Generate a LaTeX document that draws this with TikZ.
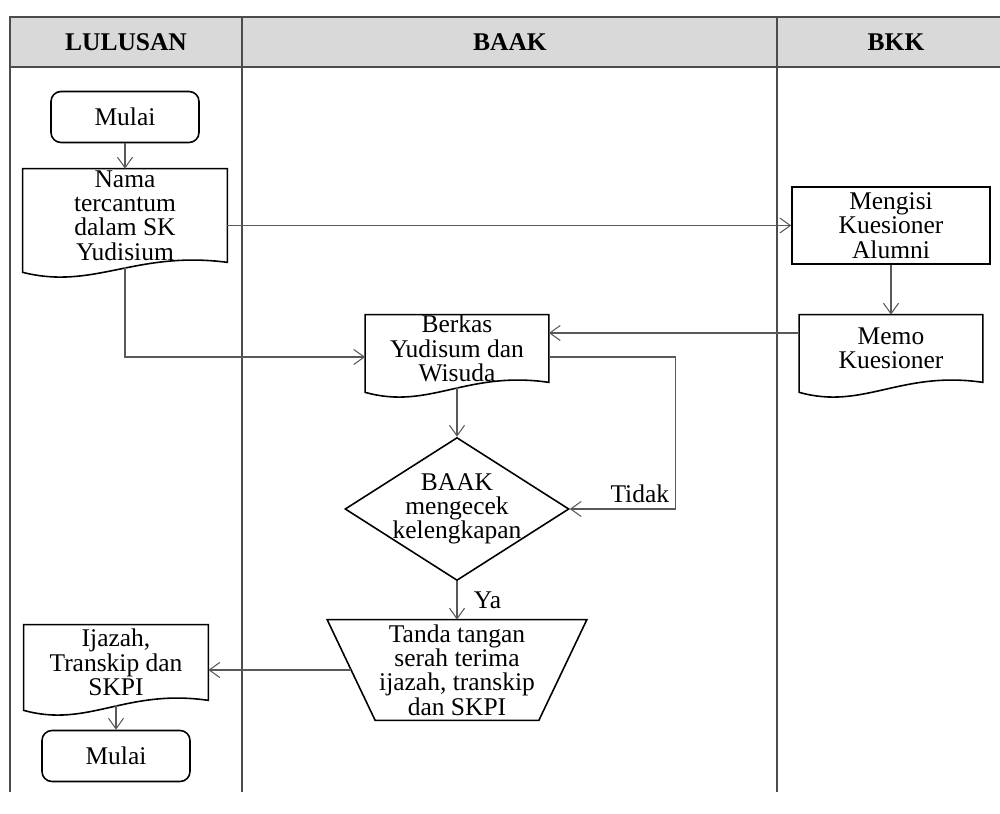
\documentclass[tikz,border=0pt]{standalone}
\usepackage{fontspec}
\setmainfont{Liberation Serif}
\usetikzlibrary{arrows.meta,positioning,shapes,calc}

\begin{document}
\begin{tikzpicture}[
  x=0.2mm, y=-0.2mm,
  >={Straight Barb[length=2.1mm,width=3mm]},
  font=\fontsize{14.5}{13.8}\selectfont,
  head/.style={font=\fontsize{14.5}{16}\selectfont\bfseries},
  lane/.style={draw=black!70, line width=0.8pt},
  term/.style={rectangle, draw, line width=0.9pt, rounded corners=2mm, minimum width=2.96cm, minimum height=1.02cm, align=center},
  process/.style={rectangle, draw, line width=0.9pt, align=center, inner sep=0pt},
  doc/.style={rectangle, align=center, inner sep=0pt},
  decision/.style={diamond, draw, line width=0.9pt, align=center, inner sep=-12pt, minimum width=4.48cm, minimum height=2.86cm},
  line/.style={draw=black!65, line width=0.6pt, ->}
]
\useasboundingbox (0,0) rectangle (1000,814);

% swimlanes
\fill[black!15] (10,17) rectangle (1000,67);
\draw[lane] (1000,17) -- (10,17) -- (10,792);
\draw[lane] (10,67) -- (1000,67);
\draw[lane] (242,17) -- (242,792);
\draw[lane] (777,17) -- (777,792);

\node[head] (lulusan) at (126,42) {LULUSAN};
\node[head] (baak) at (510,42) {BAAK};
\node[head] (bkk) at (896,42) {BKK};

% flow
\node[term] (start) at (125,117) {Mulai};
\node[doc, minimum width=4.08cm, minimum height=1.86cm] (nama) at (125,215.5) {Nama\\tercantum\\dalam SK\\Yudisium};
\node[process, minimum width=3.96cm, minimum height=1.54cm] (mengisi) at (891,225.5) {Mengisi\\Kuesioner\\Alumni};
\node[doc, minimum width=3.66cm, minimum height=1.34cm] (memo) at (891,348.5) {Memo\\Kuesioner};
\node[doc, minimum width=3.66cm, minimum height=1.34cm] (berkas) at (457,348.5) {Berkas\\Yudisum dan\\Wisuda};
\node[decision] (check) at (457,509) {BAAK\\mengecek\\kelengkapan};
\node[doc, minimum width=5.18cm, minimum height=2cm] (tanda) at (457,670) {Tanda tangan\\serah terima\\ijazah, transkip\\dan SKPI};
\node[doc, minimum width=3.68cm, minimum height=1.5cm] (ijazah) at (116,662.5) {Ijazah,\\Transkip dan\\SKPI};
\node[term] (end) at (116,756) {Mulai};

% document outlines
\foreach \d in {nama,memo,berkas,ijazah}
  \draw[line width=0.9pt] (\d.south east)
    .. controls ($(\d.south west)!0.55!(\d.south east)+(0,-12)$) and ($(\d.south west)!0.35!(\d.south east)+(0,28)$) .. ($(\d.south west)+(0,10)$)
    -- (\d.north west) -- (\d.north east) -- cycle;
\draw[line width=0.9pt] (tanda.north west) -- (tanda.north east) -- ($(tanda.south east)+(-48,0)$) -- ($(tanda.south west)+(48,0)$) -- cycle;

\coordinate (memoout) at ($(memo.west)+(0,-15.5)$);
\coordinate (tandaL) at ($(tanda.west)+(24,0)$);

\path[line] (start) -- (nama);
\path[line] (nama.east |- mengisi.west) -- (mengisi.west);
\path[line] ($(nama.south)+(0,5)$) |- ($(berkas.west)+(0,8.5)$);
\path[line] (mengisi.south) -- (mengisi.south |- memo.north);
\path[line] (memoout) -- (memoout -| berkas.east);
\path[line] ($(berkas.east)+(0,8.5)$) -- ++(127,0) |- (check.east) node[pos=0.67, above]{Tidak};
\path[line] ($(berkas.south)+(0,5)$) -- (check.north);
\path[line] (check.south) -- (tanda.north) node[midway, right=6pt]{Ya};
\path[line] (tandaL) -- (tandaL -| ijazah.east);
\path[line] ($(ijazah.south)+(0,5)$) -- (end.north);

\end{tikzpicture}
\end{document}
